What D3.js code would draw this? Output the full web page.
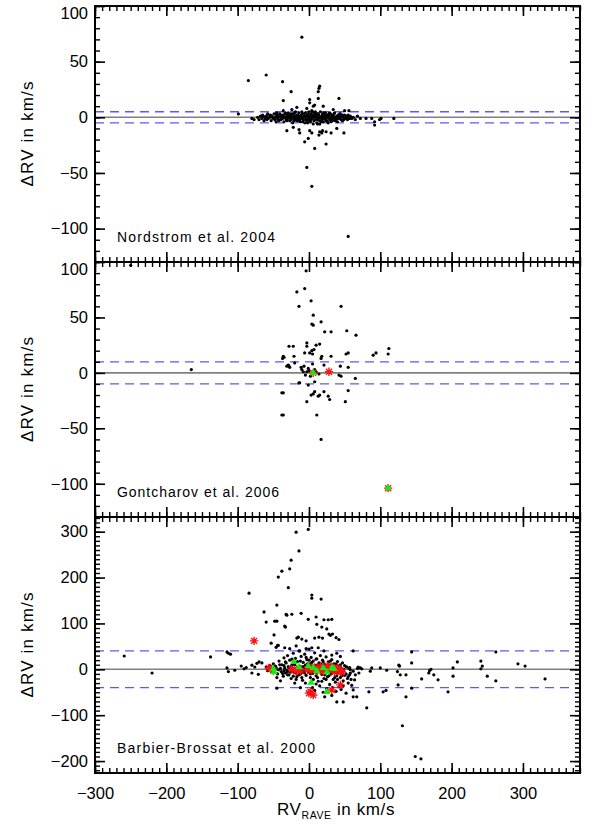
<!DOCTYPE html>
<html>
<head>
<meta charset="utf-8">
<script src="https://cdn.jsdelivr.net/npm/d3@7"></script>
<style>
  body { margin: 0; background: #fff; }
  text { font-family: "Liberation Sans", Arial, sans-serif; fill: #000; }
</style>
</head>
<body>
<div id="chart"></div>
<script>
// ---- data (RV_RAVE, delta RV) ----
var panelLabels = ["Nordstrom et al. 2004", "Gontcharov et al. 2006", "Barbier-Brossat et al. 2000"];
var dashLimits = [5, 10, 40];
var xTicks = [-300, -200, -100, 0, 100, 200, 300];
var yTicks12 = [-100, -50, 0, 50, 100];
var yTicks3 = [-200, -100, 0, 100, 200, 300];

var nordstromDots = [
  [-99,3],[-85,33],[-60,38],[-37,32],[-25,23],[-36,15],[-10,72],[15,28],[14,26],[13,23],[1,16],[13,17],
  [42,17],[1,13],[6,10],[20,10],[34,7],[50,6],[56,6],[-80,-1],[-77,-2],[72,-1],[80,-1],[88,-1],[92,-4],
  [92,-7],[99,-2],[101,-1],[119,-1],[-31,-12],[-13,-14],[-22,-9],[-14,-11],[1,-12],[4,-14],[14,-16],
  [15,-13],[19,-12],[24,-13],[31,-14],[39,-10],[49,-14],[-6,-22],[-1,-19],[8,-28],[24,-24],[-3,-45],
  [4,-62],[55,-107],[-45,4],[-36,6],[-24,7],[-3,8],[8,11],[-17,9],[18,-14],
  [-72,0],[-70,-2],[-68,1],[-66,-1],[-65,2],[-63,-3],[-62,0],[-60,1],[-59,-2],[-58,3],[-57,-1],[-55,0],
  [-54,2],[-53,-3],[-52,1],[-50,-1],[-49,3],[-48,-2],[-47,0],[-46,-4],[-45,2],[-44,-1],[-43,1],[-42,-3],
  [-41,3],[-40,0],[-39,-2],[-38,2],[-37,-1],[-36,1],[-35,-4],[-34,3],[-33,0],[-32,-2],[-31,2],[-30,-1],
  [-29,4],[-28,0],[-27,-3],[-26,2],[-25,-1],[-24,1],[-23,-5],[-22,3],[-21,0],[-20,-2],[-19,5],[-18,1],
  [-17,-3],[-16,2],[-15,-1],[-14,4],[-13,0],[-12,-4],[-11,2],[-10,-1],[-9,3],[-8,-2],[-7,1],[-6,-5],
  [-5,4],[-4,0],[-3,-3],[-2,2],[-1,-1],[0,5],[1,1],[2,-4],[3,3],[4,-1],[5,2],[6,-6],[7,0],[8,4],[9,-2],
  [10,1],[11,-5],[12,3],[13,-1],[14,2],[15,-3],[16,5],[17,0],[18,-2],[19,3],[20,-4],[21,1],[22,-1],
  [23,4],[24,-3],[25,0],[26,2],[27,-5],[28,1],[29,-2],[30,3],[31,-1],[32,0],[33,-3],[34,2],[35,-1],
  [36,4],[37,0],[38,-2],[39,1],[40,-4],[41,2],[42,-1],[43,0],[44,3],[45,-2],[46,1],[47,-3],[48,0],
  [50,2],[51,-1],[53,1],[54,-2],[56,0],[58,1],[60,-1],[62,0],[65,-2],[68,1],
  [-5,1],[0,-2],[3,0],[7,-3],[10,3],[12,-2],[18,1],[22,2],[25,-3],[28,3],[32,2],[-8,0],[-12,1],
  [-15,-3],[-20,1],[-25,-2],[-30,1],[15,0],[5,5],[20,-1],
  [-64,1],[-61,-1],[-56,2],[-51,0],[-47,3],[-43,-2],[-39,1],[-35,0],[-33,4],[-31,-3],[-29,1],[-27,2],
  [-25,3],[-23,0],[-21,-3],[-19,-1],[-17,2],[-15,1],[-13,-2],[-11,0],[-9,-4],[-7,3],[-5,-2],[-3,1],
  [-1,3],[1,-3],[3,-2],[5,0],[7,2],[9,5],[11,0],[13,3],[15,-6],[17,-4],[19,1],[21,4],[23,-2],[25,2],
  [27,0],[29,4],[31,-4],[33,1],[35,3],[37,-3],[39,-1],[41,0],[43,3],[45,1],[47,2],[49,-2],[52,0],
  [55,2],[57,-1],[-2,-5],[4,6],[-10,5],[12,-6],[26,-4],[-20,4],[30,-2]
];

var gontcharovDots = [
  [-250,97],[-165,3],[-36,-18],[-36,-38],[-36,15],[-35,14],[-28,24],[-22,24],[-21,15],[-31,6],[-29,7],
  [-17,73],[-14,60],[-14,-9],[3,65],[6,52],[45,60],[4,44],[6,43],[17,46],[22,37],[31,37],[53,38],[66,34],
  [-3,27],[-3,24],[10,25],[15,26],[4,20],[7,21],[-37,13],[-6,18],[1,18],[5,17],[18,15],[17,13],[31,15],
  [52,17],[55,18],[90,16],[94,18],[111,17],[112,22],[-28,6],[-27,5],[-20,9],[5,8],[-10,3],[-11,5],[-7,6],
  [-3,1],[-1,4],[10,1],[14,-1],[21,7],[44,6],[55,5],[42,-2],[45,-3],[-13,-9],[-1,-11],[8,-8],[65,-5],
  [-38,-18],[3,-20],[6,-19],[8,-17],[13,-21],[15,-20],[21,-17],[27,-21],[29,-24],[55,-16],[-3,-26],
  [51,-26],[-38,-38],[11,-38],[17,-60],[-4,92],[-6,76],[0,2],[2,-3],[-5,-2],[8,3],[-8,1]
];
var gontcharovStars = [[6,0],[28,1],[111,-104]];
var gontcharovTriangles = [[6,0],[111,-104]];

var barbierDots = [
  [-259,29],[-220,-8],[-138,27],[-115,38],[-113,35],[-110,33],[-115,3],[-113,-5],[-104,-2],[-95,7],
  [-91,1],[-88,4],[-84,166],[-80,9],[-80,-8],[-76,5],[-73,13],[-71,-11],[-70,16],[-66,14],[-63,125],
  [-60,103],[-53,57],[-49,75],[-48,105],[-45,140],[-45,-41],[-46,48],[-43,201],[-44,52],[-38,214],
  [-34,94],[-33,92],[-32,120],[-31,118],[-29,178],[-25,238],[-27,219],[-24,120],[-18,299],[-1,305],
  [-14,258],[4,162],[4,155],[17,153],[-45,105],[-11,122],[-1,109],[10,114],[21,108],[27,108],[32,109],
  [11,98],[18,92],[25,88],[-17,68],[-15,70],[-10,66],[-4,62],[8,68],[14,70],[19,68],[28,77],[30,74],
  [33,77],[38,69],[42,65],[-43,52],[-34,47],[-27,45],[-18,51],[-13,40],[-4,45],[4,47],[13,47],[21,40],
  [32,31],[39,35],[44,28],[62,40],[144,38],
  [127,7],[144,14],[136,-12],[144,-41],[136,-60],[131,-123],[149,-190],[157,-195],[158,-21],[168,-8],
  [171,0],[169,-3],[175,-12],[181,-23],[195,-49],[202,3],[202,-15],[208,16],[241,18],[243,7],[241,1],
  [250,-15],[262,38],[262,-25],[293,12],[303,7],[331,-21],
  [126,9],[125,-34],[128,-12],[124,-5],[109,-2],[100,3],[88,3],[86,-4],[74,1],[69,5],[72,3],[57,-12],
  [58,-1],[64,-23],[55,-30],[53,5],[22,-60],[32,-57],[39,-71],[48,-71],[62,-45],[62,-60],[67,-60],
  [81,-84],[84,-49],[104,-49],[108,-46],
  [-60,5],[-58,-3],[-55,8],[-52,-6],[-50,12],[-48,-2],[-46,4],[-44,-10],[-42,18],[-40,2],[-39,-5],
  [-38,10],[-36,-15],[-35,25],[-34,3],[-33,-8],[-32,14],[-31,-2],[-30,30],[-29,6],[-28,-12],[-27,20],
  [-26,0],[-25,-20],[-24,9],[-23,-4],[-22,35],[-21,13],[-20,-7],[-19,24],[-18,2],[-17,-16],[-16,17],
  [-15,-1],[-14,40],[-13,7],[-12,-10],[-11,28],[-10,3],[-9,-24],[-8,15],[-7,-3],[-6,33],[-5,9],
  [-4,-13],[-3,21],[-2,0],[-1,-6],[0,44],[1,12],[2,-18],[3,26],[4,4],[5,-9],[6,18],[7,-2],[8,36],
  [9,8],[10,-14],[11,23],[12,1],[13,-26],[14,14],[15,-5],[16,30],[17,6],[18,-11],[19,20],[20,-1],
  [21,-20],[22,11],[23,-7],[24,27],[25,3],[26,-16],[27,16],[28,-3],[29,-33],[30,9],[31,-10],[32,21],
  [33,0],[34,-22],[35,12],[36,-6],[37,-28],[38,5],[39,-14],[40,17],[41,-2],[42,-38],[43,8],[44,-18],
  [45,3],[46,-9],[47,14],[48,-25],[49,0],[50,-13],[52,6],[54,-20],[56,2],[58,-8],[60,-35],[-45,-18],
  [-40,-25],[-20,-30],[5,-40],[10,-32],[25,-42],[38,-48],[45,-44],[52,-52],[-30,-5],[-15,5],[0,-3],
  [15,8],[20,-4],[35,-3],[-10,-5],[-5,2],[5,7],[10,-6],[30,1],[40,-8],[-25,4],[-35,-3],[-18,-8],
  [12,10],[22,-12],[28,5],[18,3],
  [-57,0],[-54,4],[-51,-3],[-47,7],[-43,-1],[-41,10],[-37,-9],[-35,8],[-33,16],[-30,-12],[-28,2],
  [-26,-6],[-24,22],[-22,-15],[-20,10],[-18,-22],[-16,4],[-14,-12],[-12,18],[-10,-18],[-8,6],[-6,-8],
  [-4,26],[-2,12],[0,20],[2,-10],[4,15],[6,-22],[8,2],[10,22],[12,-18],[14,-4],[16,12],[18,-26],
  [20,16],[22,-2],[24,-22],[26,10],[28,-14],[30,18],[32,-6],[34,6],[36,-18],[38,12],[40,-22],[42,0],
  [44,10],[46,-14],[48,-4],[50,8],[52,-10],[55,-16],[57,4],[59,-22],[62,-4],[65,-12],[68,2],[70,-8],
  [-5,-30],[15,-36],[33,-40],[48,-36],[-12,-40],[20,-50],[8,-46]
];
var barbierStars = [
  [-77,62],[-56,3],[-50,-2],[-24,0],[-18,-4],[-14,2],[-12,-4],[0,5],[4,-2],[8,4],[12,-3],[16,6],[20,-5],
  [24,3],[28,-2],[32,5],[36,-6],[40,3],[44,-3],[46,-6],[2,-49],[0,-52],[6,-56],[32,-45],[44,-34],
  [-2,-1],[10,0],[26,7],[38,-1]
];
var barbierTriangles = [
  [-50,1],[-49,-6],[-21,16],[-14,5],[-1,7],[6,3],[11,-4],[20,3],[25,-6],[32,3],[35,1],[3,-29],[25,-49]
];

// ---- layout ----
var svgWidth = 595;
var svgHeight = 827;
var plotLeft = 95;
var plotRight = 580;
var panelTops = [6, 262, 517];
var panelBottoms = [262, 517, 773];
var xDomain = [-300, 380];
var yDomains = [[-130, 100], [-130, 100], [-226, 332]];

var panels = [
  { label: panelLabels[0], dots: nordstromDots, stars: [], triangles: [], limit: dashLimits[0], ticks: yTicks12 },
  { label: panelLabels[1], dots: gontcharovDots, stars: gontcharovStars, triangles: gontcharovTriangles, limit: dashLimits[1], ticks: yTicks12 },
  { label: panelLabels[2], dots: barbierDots, stars: barbierStars, triangles: barbierTriangles, limit: dashLimits[2], ticks: yTicks3 }
];

var svg = d3.select("#chart")
  .append("svg")
  .attr("width", svgWidth)
  .attr("height", svgHeight);

var xScale = d3.scaleLinear().domain(xDomain).range([plotLeft, plotRight]);
var xMinor = d3.range(-300, 381, 10);

// asterisk marker like IDL psym=2
function starPath(r) {
  var d = r * Math.SQRT1_2;
  return "M" + (-r) + ",0L" + r + ",0M0," + (-r) + "L0," + r +
    "M" + (-d) + "," + (-d) + "L" + d + "," + d + "M" + (-d) + "," + d + "L" + d + "," + (-d);
}

function styleAxis(g, width) {
  g.select(".domain").remove();
  g.selectAll(".tick line").attr("stroke", "#000").attr("stroke-width", width);
  g.selectAll(".tick text")
    .attr("font-family", "Liberation Sans, Arial, sans-serif")
    .attr("font-size", 16.5)
    .attr("fill", "#000");
}

panels.forEach(function (p, i) {
  var top = panelTops[i];
  var bottom = panelBottoms[i];
  var yScale = d3.scaleLinear().domain(yDomains[i]).range([bottom, top]);
  var g = svg.append("g");

  g.append("clipPath").attr("id", "clip" + i)
    .append("rect")
    .attr("x", plotLeft).attr("y", top)
    .attr("width", plotRight - plotLeft).attr("height", bottom - top);

  var plot = g.append("g").attr("clip-path", "url(#clip" + i + ")");

  // zero line
  plot.append("line")
    .attr("x1", xScale(xDomain[0])).attr("x2", xScale(xDomain[1]))
    .attr("y1", yScale(0)).attr("y2", yScale(0))
    .attr("stroke", "#808080").attr("stroke-width", 1.6);

  // +/- limit dashed lines
  plot.selectAll(".limit")
    .data([p.limit, -p.limit])
    .enter()
    .append("line")
    .attr("x1", xScale(xDomain[0])).attr("x2", xScale(xDomain[1]))
    .attr("y1", d => yScale(d)).attr("y2", d => yScale(d))
    .attr("stroke", "#5a5af5").attr("stroke-width", 1.3)
    .attr("stroke-dasharray", "9,6");

  plot.selectAll(".dot")
    .data(p.dots)
    .enter()
    .append("circle")
    .attr("cx", d => xScale(d[0]))
    .attr("cy", d => yScale(d[1]))
    .attr("r", 1.6)
    .attr("fill", "#000");

  plot.selectAll(".star")
    .data(p.stars)
    .enter()
    .append("path")
    .attr("transform", d => `translate(${xScale(d[0])},${yScale(d[1])})`)
    .attr("d", starPath(4.2))
    .attr("stroke", "#ff1010").attr("stroke-width", 1.4).attr("fill", "none");

  plot.selectAll(".tri")
    .data(p.triangles)
    .enter()
    .append("path")
    .attr("transform", d => `translate(${xScale(d[0])},${yScale(d[1])})`)
    .attr("d", d3.symbol().type(d3.symbolTriangle).size(24)())
    .attr("fill", "#10ee10");

  // axes, ticks pointing inward
  var yMinor = d3.range(Math.ceil(yDomains[i][0] / 10) * 10, yDomains[i][1] + 1, 10);

  g.append("g").attr("transform", `translate(${plotLeft},0)`)
    .call(d3.axisLeft(yScale).tickValues(yMinor).tickSize(-5).tickFormat(""))
    .call(a => styleAxis(a, 1.4));
  g.append("g").attr("transform", `translate(${plotLeft},0)`)
    .call(d3.axisLeft(yScale).tickValues(p.ticks).tickSize(-10).tickPadding(7).tickFormat(d3.format("d")))
    .call(a => styleAxis(a, 1.6))
    .call(a => a.selectAll(".tick text")
      .text(d => d < 0 ? "\u2212" + Math.abs(d) : d)
      .attr("dy", d => (yScale(d) - top < 8) ? "12px" : "0.32em"));

  g.append("g").attr("transform", `translate(${plotRight},0)`)
    .call(d3.axisRight(yScale).tickValues(yMinor).tickSize(-5).tickFormat(""))
    .call(a => styleAxis(a, 1.4));
  g.append("g").attr("transform", `translate(${plotRight},0)`)
    .call(d3.axisRight(yScale).tickValues(p.ticks).tickSize(-10).tickFormat(""))
    .call(a => styleAxis(a, 1.6));

  g.append("g").attr("transform", `translate(0,${top})`)
    .call(d3.axisTop(xScale).tickValues(xMinor).tickSize(-5).tickFormat(""))
    .call(a => styleAxis(a, 1.4));
  g.append("g").attr("transform", `translate(0,${top})`)
    .call(d3.axisTop(xScale).tickValues(xTicks).tickSize(-10).tickFormat(""))
    .call(a => styleAxis(a, 1.6));

  g.append("g").attr("transform", `translate(0,${bottom})`)
    .call(d3.axisBottom(xScale).tickValues(xMinor).tickSize(-5).tickFormat(""))
    .call(a => styleAxis(a, 1.4));
  g.append("g").attr("transform", `translate(0,${bottom})`)
    .call(d3.axisBottom(xScale).tickValues(xTicks).tickSize(-10).tickPadding(14)
      .tickFormat(i === panels.length - 1 ? (d => d < 0 ? "\u2212" + Math.abs(d) : d) : ""))
    .call(a => styleAxis(a, 1.6));

  // frame
  g.append("rect")
    .attr("x", plotLeft).attr("y", top)
    .attr("width", plotRight - plotLeft).attr("height", bottom - top)
    .attr("fill", "none").attr("stroke", "#000").attr("stroke-width", 2);

  // y title
  g.append("text")
    .attr("transform", `translate(33,${(top + bottom) / 2}) rotate(-90)`)
    .attr("text-anchor", "middle")
    .attr("font-size", 17)
    .attr("textLength", 105)
    .attr("lengthAdjust", "spacing")
    .text("\u0394RV in km/s");

  // panel annotation
  g.append("text")
    .attr("x", plotLeft + 22)
    .attr("y", bottom - 20)
    .attr("font-size", 14)
    .attr("textLength", i === 0 ? 158 : (i === 1 ? 162 : 198))
    .attr("lengthAdjust", "spacing")
    .text(p.label);
});

// x title with subscript
var xTitle = svg.append("text")
  .attr("x", 336)
  .attr("y", 815)
  .attr("text-anchor", "middle")
  .attr("font-size", 17)
  .attr("letter-spacing", 0.6);
xTitle.append("tspan").text("RV");
xTitle.append("tspan").attr("font-size", 10.5).attr("dy", 4).text("RAVE");
xTitle.append("tspan").attr("dy", -4).text(" in km/s");
</script>
</body>
</html>
